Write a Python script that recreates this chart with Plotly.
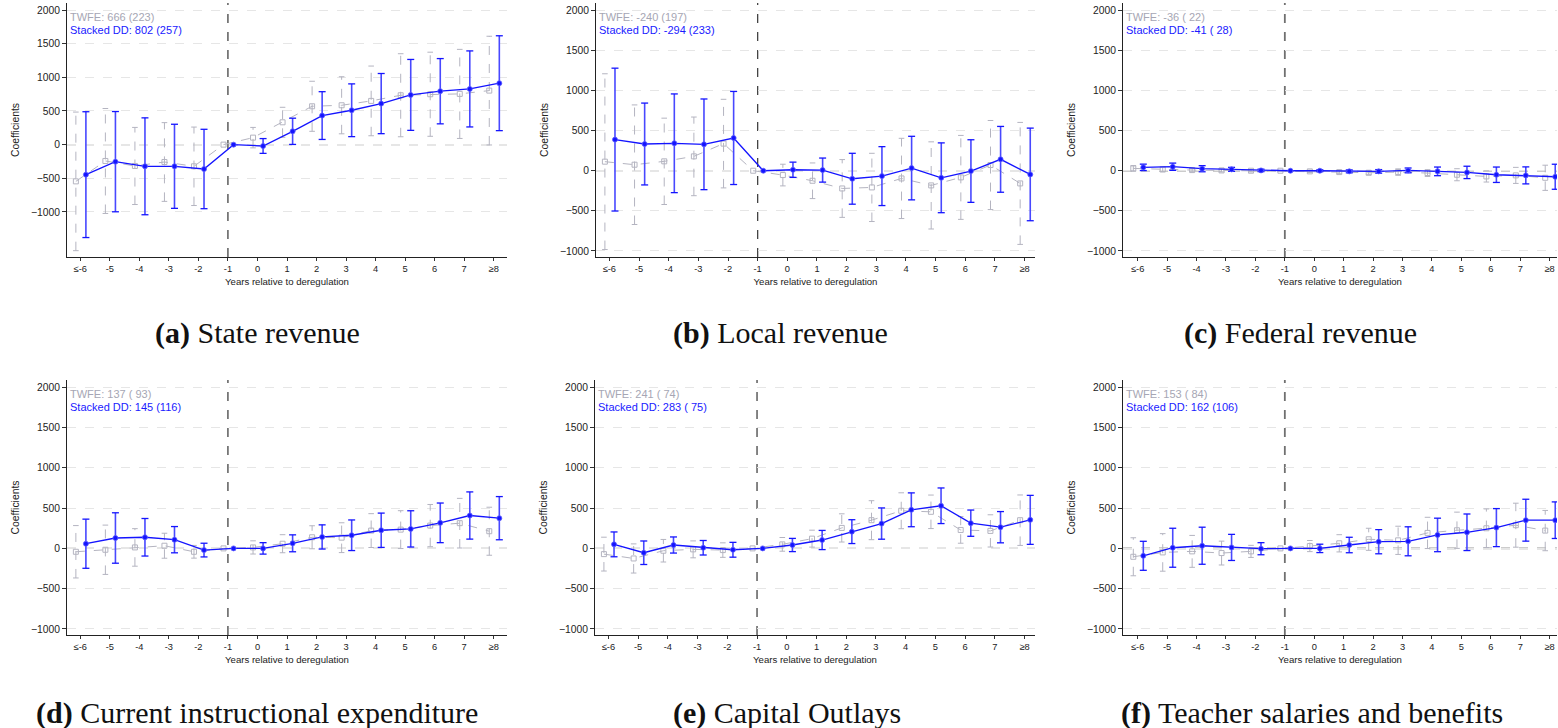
import plotly.graph_objects as go

# Event-time categories (years relative to deregulation)
YEAR_LABELS = ["≤-6", "-5", "-4", "-3", "-2", "-1", "0", "1", "2", "3", "4", "5", "6", "7", "≥8"]
Y_TICKS = [2000, 1500, 1000, 500, 0, -500, -1000]

# (a) State revenue
STATE_DD = [-446, -253, -322, -322, -362, 0, -20, 198, 432, 511, 610, 739, 794, 828, 913]
STATE_DD_CI = [935, 745, 720, 625, 590, 0, 110, 195, 355, 392, 447, 527, 485, 565, 705]
STATE_TWFE = [-546, -243, -317, -258, -322, 0, 104, 332, 570, 585, 650, 734, 749, 754, 803]
STATE_TWFE_CI = [1030, 780, 573, 585, 583, 0, 152, 223, 372, 424, 518, 617, 625, 662, 808]

# (b) Local revenue
LOCAL_DD = [388, 333, 342, 329, 408, 0, 12, 8, -100, -67, 33, -88, -4, 142, -46]
LOCAL_DD_CI = [890, 510, 615, 565, 580, 0, 95, 150, 317, 367, 396, 435, 390, 410, 577]
LOCAL_TWFE = [113, 75, 117, 179, 338, 0, -54, -125, -221, -208, -96, -183, -83, 71, -158]
LOCAL_TWFE_CI = [1095, 745, 538, 490, 552, 0, 135, 222, 360, 425, 500, 543, 523, 555, 760]

# (c) Federal revenue
FED_DD = [42, 50, 25, 17, 4, 0, 0, -8, -8, 4, -8, -21, -50, -58, -75]
FED_DD_CI = [40, 45, 38, 25, 15, 0, 12, 18, 22, 30, 54, 77, 96, 106, 156]
FED_TWFE = [29, 17, 8, 4, 0, 0, -8, -17, -25, -17, -29, -50, -71, -58, -88]
FED_TWFE_CI = [35, 30, 20, 18, 15, 0, 15, 20, 25, 40, 42, 75, 70, 100, 157]

# (d) Current instructional expenditure
INSTR_DD = [58, 129, 138, 108, -21, 0, 0, 63, 142, 163, 225, 242, 317, 408, 375]
INSTR_DD_CI = [305, 313, 233, 163, 85, 0, 71, 105, 150, 190, 213, 225, 246, 293, 268]
INSTR_TWFE = [-42, -17, 12, 33, -42, 0, 12, 58, 138, 133, 221, 233, 283, 313, 213]
INSTR_TWFE_CI = [325, 306, 233, 155, 79, 0, 82, 112, 143, 185, 210, 235, 262, 308, 298]

# (e) Capital outlays
CAPITAL_DD = [50, -54, 42, 8, -17, 0, 42, 104, 208, 308, 479, 529, 313, 263, 354]
CAPITAL_DD_CI = [154, 146, 100, 90, 92, 0, 82, 119, 148, 194, 210, 221, 163, 194, 304]
CAPITAL_TWFE = [-71, -125, -29, -12, -21, 0, 50, 121, 254, 350, 467, 454, 229, 217, 350]
CAPITAL_TWFE_CI = [210, 181, 140, 105, 90, 0, 85, 105, 175, 242, 223, 208, 165, 200, 313]

# (f) Teacher salaries and benefits
TEACHER_DD = [-92, 8, 33, 12, -4, 0, 0, 42, 83, 88, 167, 200, 258, 350, 350]
TEACHER_DD_CI = [180, 242, 230, 162, 75, 0, 52, 96, 150, 180, 208, 227, 236, 260, 227]
TEACHER_TWFE = [-104, -50, -37, -58, -37, 0, 29, 63, 113, 100, 192, 225, 250, 288, 221]
TEACHER_TWFE_CI = [236, 233, 198, 148, 75, 0, 69, 107, 137, 175, 194, 225, 240, 273, 250]

CAPTION_TAGS = ["(a)", "(b)", "(c)", "(d)", "(e)", "(f)"]
CAPTION_TEXTS = ["State revenue", "Local revenue", "Federal revenue",
                 "Current instructional expenditure", "Capital Outlays",
                 "Teacher salaries and benefits"]
TWFE_SUMMARY = ["666 (223)", "-240 (197)", "-36 ( 22)", "137 ( 93)", "241 ( 74)", "153 ( 84)"]
DD_SUMMARY = ["802 (257)", "-294 (233)", "-41 ( 28)", "145 (116)", "283 ( 75)", "162 (106)"]

SERIES = [
    (STATE_DD, STATE_DD_CI, STATE_TWFE, STATE_TWFE_CI),
    (LOCAL_DD, LOCAL_DD_CI, LOCAL_TWFE, LOCAL_TWFE_CI),
    (FED_DD, FED_DD_CI, FED_TWFE, FED_TWFE_CI),
    (INSTR_DD, INSTR_DD_CI, INSTR_TWFE, INSTR_TWFE_CI),
    (CAPITAL_DD, CAPITAL_DD_CI, CAPITAL_TWFE, CAPITAL_TWFE_CI),
    (TEACHER_DD, TEACHER_DD_CI, TEACHER_TWFE, TEACHER_TWFE_CI),
]

W, H = 1558, 728
BLUE = "#1414ff"
BLUE_CI = "#4848ff"
GRAY = "#b4b4c0"
SANS = "Liberation Sans"
SERIF = "Liberation Serif"

# Panel geometry in pixels: (left, right, top, bottom, x-range, y-range, vline color, vline width)
PANELS = [
    (67, 507, 3, 257, [-0.45, 14.45], [-1670, 2105], "#222222", 1.1),
    (596, 1035, 3, 257, [-0.45, 14.35], [-1075, 2090], "#444444", 1.3),
    (1123, 1557, 3, 257, [-0.5, 14.25], [-1075, 2090], "#707070", 1.8),
    (67, 507, 380, 635, [-0.45, 14.45], [-1075, 2090], "#222222", 1.1),
    (595, 1035, 380, 635, [-0.45, 14.35], [-1075, 2090], "#444444", 1.3),
    (1123, 1557, 380, 635, [-0.5, 14.25], [-1075, 2090], "#707070", 1.8),
]
# caption centres (pixels)
CAPTION_POS = [(257, 333), (780, 333), (1300, 333), (257, 713), (787, 713), (1312, 713)]


def px(x):
    return x / W


def py(y):
    return 1 - y / H


def ci_segments(xs, est, ci):
    sx, sy, cx, cy = [], [], [], []
    for x, e, c in zip(xs, est, ci):
        if c <= 0:
            continue
        sx += [x, x, None]
        sy += [e - c, e + c, None]
        cx += [x, x]
        cy += [e - c, e + c]
    return sx, sy, cx, cy


fig = go.Figure()
shapes, annotations = [], []
layout = {}

for k, (panel, series) in enumerate(zip(PANELS, SERIES)):
    left, right, top, bottom, xr, yr, vcol, vwid = panel
    dd, dd_ci, tw, tw_ci = series
    suffix = "" if k == 0 else str(k + 1)
    xa, ya = f"x{suffix}", f"y{suffix}"
    xkey, ykey = f"xaxis{suffix}", f"yaxis{suffix}"

    base = list(range(len(YEAR_LABELS)))
    x_tw = [i - 0.15 for i in base]
    x_dd = [i + 0.19 for i in base]

    # TWFE: dashed gray whiskers, hollow squares
    sx, sy, cx, cy = ci_segments(x_tw, tw, tw_ci)
    fig.add_trace(go.Scatter(x=sx, y=sy, mode="lines", xaxis=xa, yaxis=ya,
                             line=dict(color=GRAY, width=1, dash="dash"),
                             hoverinfo="skip", showlegend=False))
    fig.add_trace(go.Scatter(x=cx, y=cy, mode="markers", xaxis=xa, yaxis=ya,
                             marker=dict(symbol="line-ew", size=4,
                                         line=dict(color=GRAY, width=1)),
                             hoverinfo="skip", showlegend=False))
    fig.add_trace(go.Scatter(x=x_tw, y=tw, mode="lines+markers", xaxis=xa, yaxis=ya,
                             line=dict(color=GRAY, width=1, dash="dash"),
                             marker=dict(symbol="square-open", size=5,
                                         color=GRAY, line=dict(width=1)),
                             name="TWFE", showlegend=False))

    # Stacked DD: solid blue whiskers, filled circles
    sx, sy, cx, cy = ci_segments(x_dd, dd, dd_ci)
    fig.add_trace(go.Scatter(x=sx, y=sy, mode="lines", xaxis=xa, yaxis=ya,
                             line=dict(color=BLUE_CI, width=1.6),
                             hoverinfo="skip", showlegend=False))
    fig.add_trace(go.Scatter(x=cx, y=cy, mode="markers", xaxis=xa, yaxis=ya,
                             marker=dict(symbol="line-ew", size=5,
                                         line=dict(color=BLUE, width=1.3)),
                             hoverinfo="skip", showlegend=False))
    fig.add_trace(go.Scatter(x=x_dd, y=dd, mode="lines+markers", xaxis=xa, yaxis=ya,
                             line=dict(color=BLUE, width=1.3),
                             marker=dict(symbol="circle", size=5, color=BLUE,
                                         line=dict(color="#6060ff", width=0.8)),
                             name="Stacked DD", showlegend=False))

    layout[xkey] = dict(
        domain=[px(left), px(right)], anchor=ya, range=xr,
        tickmode="array", tickvals=base, ticktext=YEAR_LABELS,
        ticks="outside", ticklen=3, tickwidth=1, tickcolor="#333",
        showline=True, linecolor="#222", linewidth=1, showgrid=False, zeroline=False,
        tickfont=dict(family=SANS, size=9.3, color="#222"),
        title=dict(text="Years relative to deregulation", standoff=5,
                   font=dict(family=SANS, size=9.6, color="#222")),
        fixedrange=True,
    )
    layout[ykey] = dict(
        domain=[py(bottom), py(top)], anchor=xa, range=yr,
        tickmode="array", tickvals=Y_TICKS,
        ticks="outside", ticklen=4, tickwidth=1, tickcolor="#333",
        showline=True, linecolor="#222", linewidth=1,
        showgrid=True, gridcolor="#e6e6e6", gridwidth=1, griddash="dash",
        zeroline=False,
        tickfont=dict(family=SANS, size=10.3, color="#222"),
        title=dict(text="Coefficients", standoff=9,
                   font=dict(family=SANS, size=10.4, color="#222")),
        fixedrange=True,
    )

    # zero reference line and deregulation marker at -1
    shapes.append(dict(type="line", xref=f"{xa} domain", yref=ya, x0=0, x1=1, y0=0, y1=0,
                       line=dict(color="#9a9a9a", width=1.1 if k % 3 != 2 else 1.6, dash="dash"),
                       layer="below"))
    shapes.append(dict(type="line", xref=xa, yref=f"{ya} domain", x0=5, x1=5, y0=0, y1=1,
                       line=dict(color=vcol, width=vwid, dash="dash"), layer="below"))

    # point-estimate summaries
    annotations.append(dict(xref="paper", yref="paper", x=px(left + 1), y=py(top + 14),
                            text=f"TWFE: {TWFE_SUMMARY[k]}", showarrow=False,
                            xanchor="left", yanchor="middle",
                            font=dict(family=SANS, size=11, color="#a6a6b4")))
    annotations.append(dict(xref="paper", yref="paper", x=px(left + 1), y=py(top + 27),
                            text=f"Stacked DD: {DD_SUMMARY[k]}", showarrow=False,
                            xanchor="left", yanchor="middle",
                            font=dict(family=SANS, size=11, color="#1a1aff")))

    # sub-figure caption
    cap_x, cap_y = CAPTION_POS[k]
    annotations.append(dict(xref="paper", yref="paper", x=px(cap_x), y=py(cap_y),
                            text=f"<b>{CAPTION_TAGS[k]}</b> {CAPTION_TEXTS[k]}",
                            showarrow=False, xanchor="center", yanchor="middle",
                            font=dict(family=SERIF, size=30, color="#111")))

fig.update_layout(
    width=W, height=H, margin=dict(l=0, r=0, t=0, b=0),
    paper_bgcolor="white", plot_bgcolor="white",
    shapes=shapes, annotations=annotations, showlegend=False,
    **layout,
)

fig.write_html("out.html", config={"displayModeBar": False})
